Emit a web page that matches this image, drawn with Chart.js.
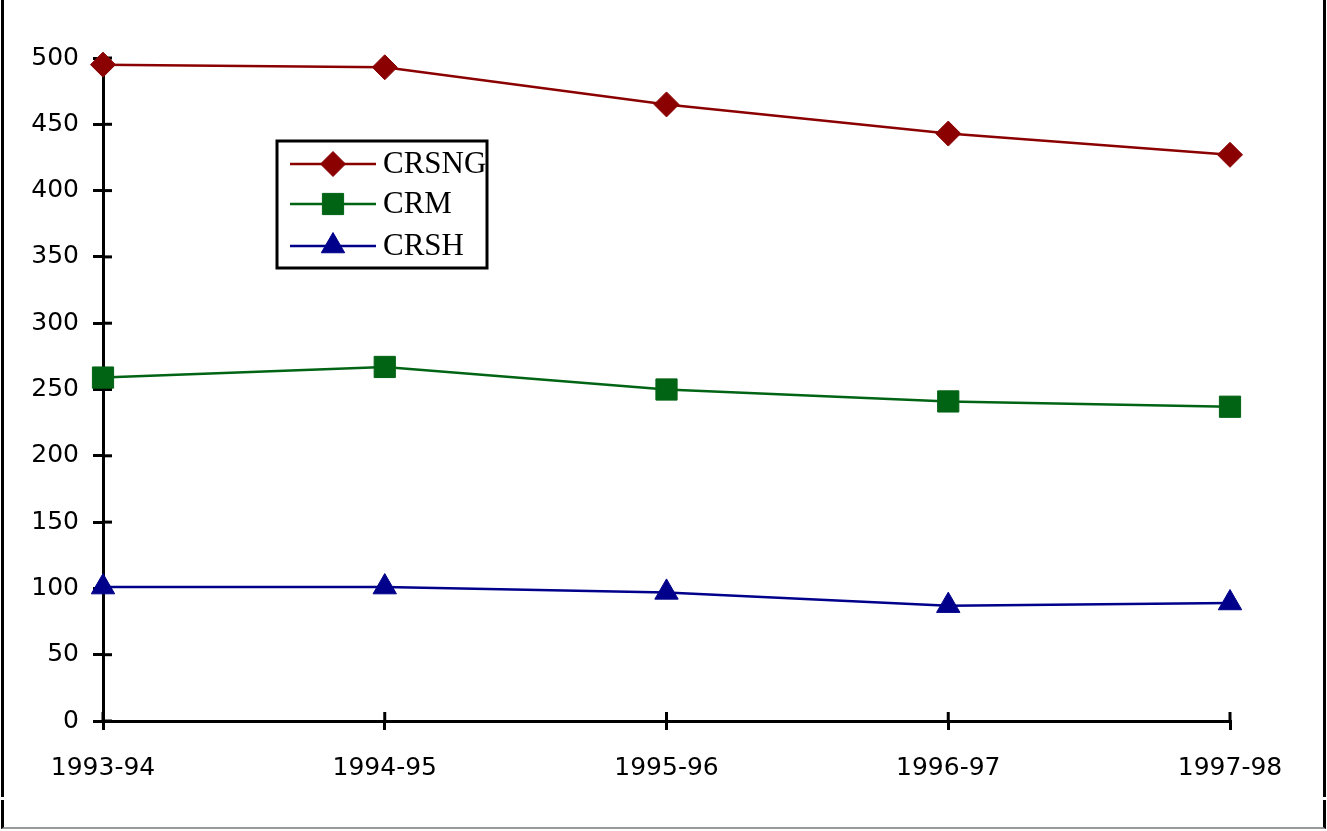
<!DOCTYPE html>
<html>
<head>
<meta charset="utf-8">
<script src="https://cdn.jsdelivr.net/npm/chart.js@4/dist/chart.umd.min.js"></script>
<style>
  html, body { margin: 0; padding: 0; background: #fff; }
  #wrap { position: relative; width: 1327px; height: 831px; overflow: hidden; }
  canvas { position: absolute; left: 0; top: 0; }
  .frameA { position: absolute; left: 1px; top: 0; width: 1319px; height: 797px;
            border-left: 3px solid #000; border-right: 3px solid #000; }
  .frameB { position: absolute; left: 1px; top: 800px; width: 1319px; height: 27px;
            border-left: 3px solid #000; border-right: 3px solid #000; border-bottom: 2px solid #999; }
</style>
</head>
<body>
<div id="wrap">
  <div class="frameA"></div>
  <div class="frameB"></div>
  <canvas id="c" width="1327" height="831"></canvas>
</div>
<script>
const categories = ['1993-94', '1994-95', '1995-96', '1996-97', '1997-98'];
const crsng = [495, 493, 465, 443, 427];
const crm   = [259, 267, 250, 241, 237];
const crsh  = [101, 101, 97, 87, 89];
const seriesNames = ['CRSNG', 'CRM', 'CRSH'];

const COLORS = ['#8b0000', '#006414', '#00008b'];
const STYLES = ['rectRot', 'rect', 'triangle'];
const RADII = [12.5, 15, 13.5];
const AXIS_FONT = { family: '"DejaVu Sans", Verdana, sans-serif', size: 25 };

function mk(i, data) {
  return {
    label: seriesNames[i], data: data,
    borderColor: COLORS[i], backgroundColor: COLORS[i],
    pointBackgroundColor: COLORS[i], pointBorderColor: COLORS[i],
    pointStyle: STYLES[i], pointRadius: RADII[i], pointBorderWidth: 1,
    borderWidth: 2.5, tension: 0, clip: false
  };
}

function drawMarker(ctx, style, x, y, r) {
  ctx.beginPath();
  if (style === 'rectRot') {
    ctx.moveTo(x - r, y); ctx.lineTo(x, y - r); ctx.lineTo(x + r, y); ctx.lineTo(x, y + r);
  } else if (style === 'rect') {
    const s = r * Math.SQRT1_2;
    ctx.rect(x - s, y - s, 2 * s, 2 * s);
  } else {
    const a = Math.PI * 2 / 3;
    ctx.moveTo(x, y - r);
    ctx.lineTo(x + Math.sin(a) * r, y - Math.cos(a) * r);
    ctx.lineTo(x - Math.sin(a) * r, y - Math.cos(a) * r);
  }
  ctx.closePath();
  ctx.fill();
  ctx.stroke();
}

const innerTicks = {
  id: 'innerTicks',
  beforeDatasetsDraw(chart) {
    const ctx = chart.ctx, a = chart.chartArea;
    ctx.save();
    ctx.strokeStyle = '#000'; ctx.lineWidth = 3;
    const ys = chart.scales.y;
    ys.ticks.forEach((t, i) => {
      const y = ys.getPixelForTick(i);
      ctx.beginPath(); ctx.moveTo(a.left, y); ctx.lineTo(a.left + 9, y); ctx.stroke();
    });
    const xs = chart.scales.x;
    xs.ticks.forEach((t, i) => {
      const x = xs.getPixelForTick(i);
      ctx.beginPath(); ctx.moveTo(x, a.bottom); ctx.lineTo(x, a.bottom - 9); ctx.stroke();
    });
    ctx.restore();
  }
};

const boxLegend = {
  id: 'boxLegend',
  afterDraw(chart) {
    const ctx = chart.ctx;
    const L = { x: 277, y: 141, w: 210, h: 127, rowY: [164, 204, 246], lineX0: 290, lineX1: 376, markX: 333, textX: 383 };
    ctx.save();
    ctx.fillStyle = '#fff';
    ctx.fillRect(L.x, L.y, L.w, L.h);
    ctx.strokeStyle = '#000'; ctx.lineWidth = 3;
    ctx.strokeRect(L.x, L.y, L.w, L.h);
    chart.data.datasets.forEach((ds, i) => {
      const y = L.rowY[i];
      ctx.strokeStyle = ds.borderColor; ctx.lineWidth = 2.5;
      ctx.beginPath(); ctx.moveTo(L.lineX0, y); ctx.lineTo(L.lineX1, y); ctx.stroke();
      ctx.fillStyle = ds.borderColor; ctx.lineWidth = 1;
      drawMarker(ctx, ds.pointStyle, L.markX, y, ds.pointRadius);
      ctx.fillStyle = '#000';
      ctx.font = '31px "Liberation Serif", "Times New Roman", serif';
      ctx.textBaseline = 'middle'; ctx.textAlign = 'left';
      ctx.fillText(ds.label, L.textX, y + 1);
    });
    ctx.restore();
  }
};

new Chart(document.getElementById('c'), {
  type: 'line',
  data: {
    labels: categories,
    datasets: [mk(0, crsng), mk(1, crm), mk(2, crsh)]
  },
  plugins: [innerTicks, boxLegend],
  options: {
    responsive: false,
    animation: false,
    devicePixelRatio: 1,
    layout: { padding: { left: 0, top: 58, right: 97, bottom: 0 } },
    plugins: { legend: { display: false }, tooltip: { enabled: false } },
    scales: {
      x: {
        type: 'category', offset: false,
        grid: { display: true, drawOnChartArea: false, drawTicks: true, tickLength: 9, color: '#000', lineWidth: 3 },
        border: { display: true, color: '#000', width: 3 },
        ticks: { font: AXIS_FONT, color: '#000', padding: 23, maxRotation: 0, autoSkip: false },
        afterFit: s => { s.height = 110; s.paddingLeft = 0; s.paddingRight = 0; }
      },
      y: {
        min: 0, max: 500,
        grid: { display: true, drawOnChartArea: false, drawTicks: true, tickLength: 10, color: '#000', lineWidth: 3 },
        border: { display: true, color: '#000', width: 3 },
        ticks: { stepSize: 50, font: AXIS_FONT, color: '#000', padding: 14 },
        afterFit: s => { s.width = 103; s.paddingTop = 0; s.paddingBottom = 0; }
      }
    }
  }
});
</script>
</body>
</html>
